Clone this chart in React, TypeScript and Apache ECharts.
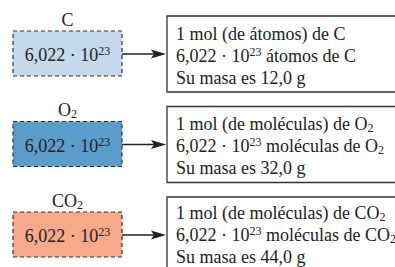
import React, { useEffect, useRef } from "react";
import * as echarts from "echarts";

// species shown (rich markup for subscripts)
const speciesLabels = ["C", "O{sub|2}", "CO{sub|2}"];
const speciesFormula = ["C", "O{sub|2}", "CO{sub|2}"];
const particleKind = ["átomos", "moléculas", "moléculas"];
const masses = ["12,0", "32,0", "44,0"];
const fillColors = ["#c5d9ec", "#5b9ccb", "#f8a98c"];
const avogadro = "6,022 · 10{sup|23}";

const rowOffsets = [0, 90.5, 181];
const textOffsets = [0, 90, 179];

const FONT = "'Liberation Serif', 'Times New Roman', serif";
const rich = {
  sup: { fontSize: 12, lineHeight: 12, verticalAlign: "top", fontFamily: FONT, fill: "#222" },
  sub: { fontSize: 12, lineHeight: 12, verticalAlign: "bottom", fontFamily: FONT, fill: "#222" },
};

function txt(x: number, y: number, text: string, align: string) {
  return {
    type: "text",
    x,
    y,
    style: {
      text,
      fontFamily: FONT,
      fontSize: 18,
      lineHeight: 20,
      fill: "#222",
      align,
      verticalAlign: "middle",
      rich,
    },
  };
}

export default function App() {
  const ref = useRef<HTMLDivElement>(null);
  useEffect(() => {
    document.body.style.margin = "0";
    const chart = echarts.init(ref.current!, null, { renderer: "svg" });
    const elements: any[] = [];
    speciesLabels.forEach((lab, i) => {
      const o = rowOffsets[i];
      const t = textOffsets[i];
      // label above
      elements.push(txt(67.5, 19.5 + o, lab, "center"));
      // dashed box
      elements.push({
        type: "rect",
        shape: { x: 13, y: 31 + o, width: 109, height: 45 },
        style: { fill: fillColors[i], stroke: "#333", lineWidth: 1.2, lineDash: [4, 3] },
      });
      elements.push(txt(67.5, 55 + o, avogadro, "center"));
      // arrow
      const ay = 54 + o;
      elements.push({
        type: "line",
        shape: { x1: 122, y1: ay, x2: 155, y2: ay },
        style: { stroke: "#222", lineWidth: 1.3 },
      });
      elements.push({
        type: "polygon",
        shape: { points: [[151, ay - 4.5], [166, ay], [151, ay + 4.5], [154, ay]] },
        style: { fill: "#222" },
      });
      // right box
      elements.push({
        type: "rect",
        shape: { x: 167, y: 16 + o, width: 300, height: 76 },
        style: { fill: "#fff", stroke: "#333", lineWidth: 1.3 },
      });
      const f = speciesFormula[i];
      const kind = i === 0 ? "átomos" : "moléculas";
      elements.push(txt(176, 34 + t, `1 mol (de ${kind}) de ${f}`, "left"));
      elements.push(txt(176, 56 + t, `${avogadro} ${particleKind[i]} de ${f}`, "left"));
      elements.push(txt(176, 78 + t, `Su masa es ${masses[i]} g`, "left"));
    });
    chart.setOption({
      animation: false,
      backgroundColor: "#fff",
      graphic: { elements },
    });
    return () => chart.dispose();
  }, []);
  return <div ref={ref} style={{ width: 395, height: 267 }} />;
}
